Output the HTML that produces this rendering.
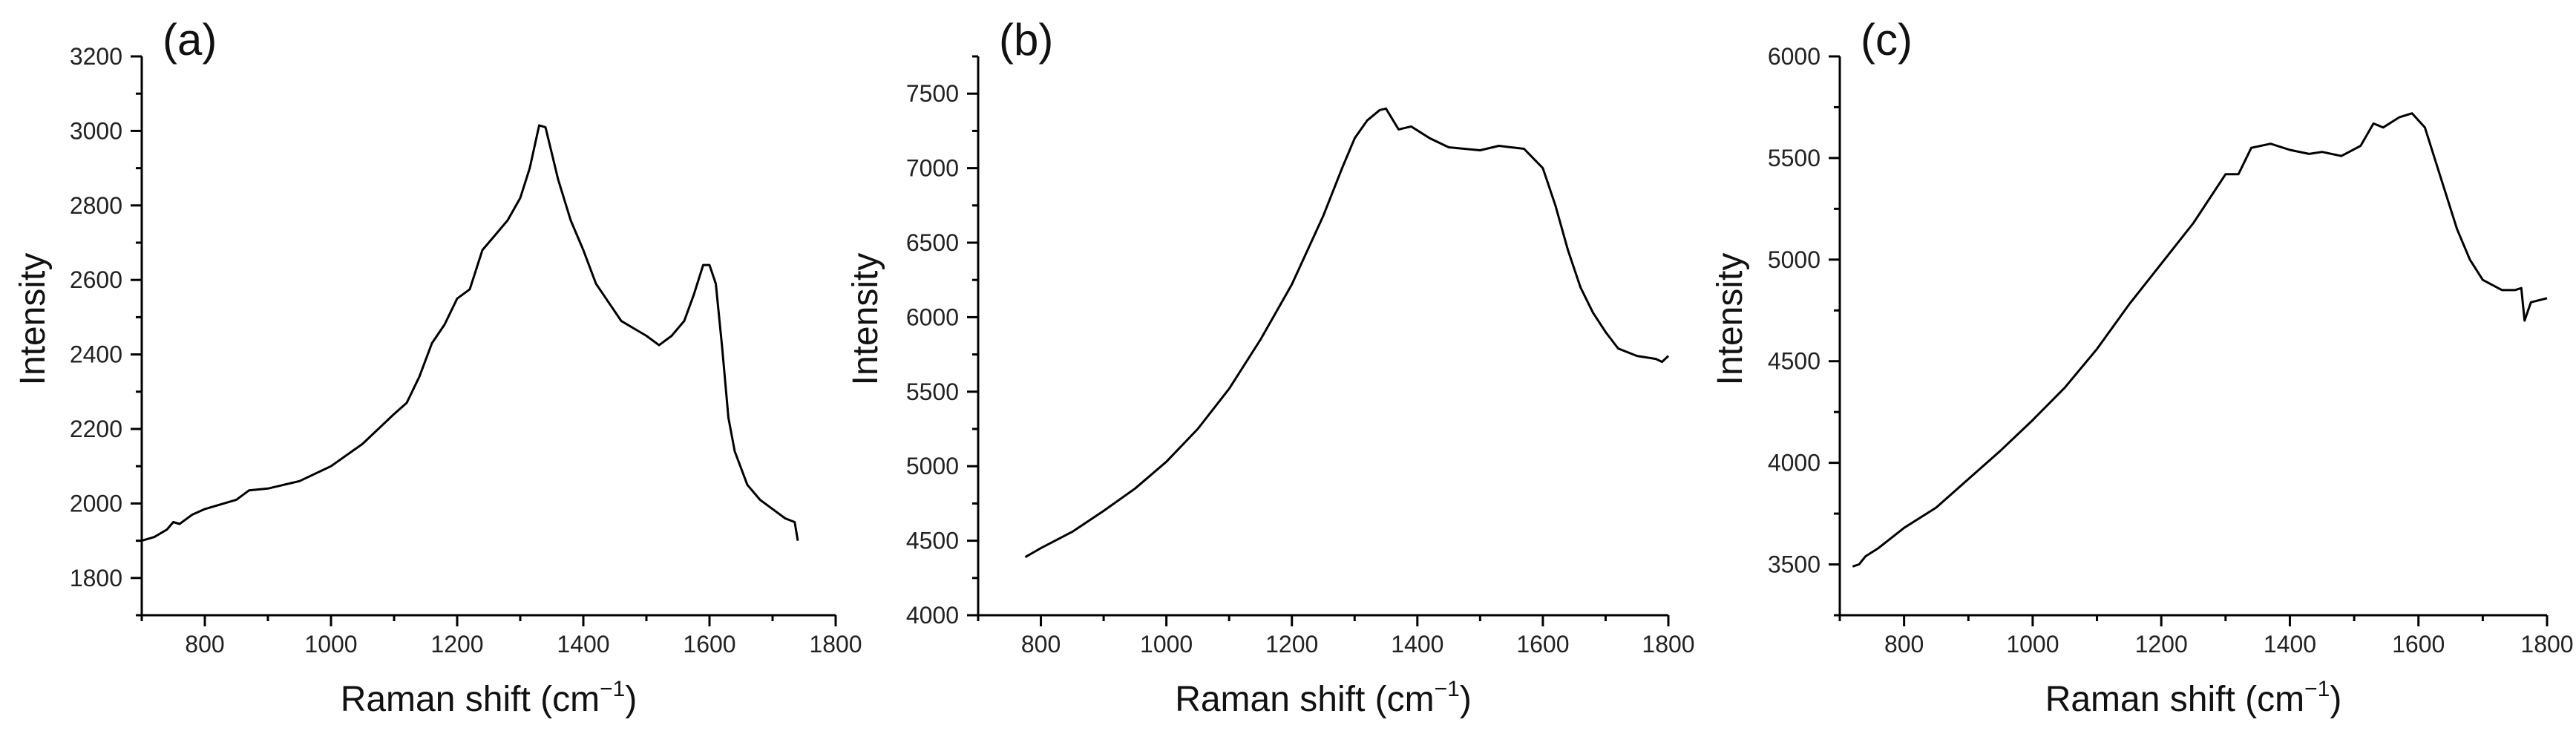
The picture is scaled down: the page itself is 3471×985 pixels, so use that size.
<!DOCTYPE html>
<html><head><meta charset="utf-8"><style>
html,body{margin:0;padding:0;background:#fff;}
svg{display:block;font-family:"Liberation Sans",Arial,sans-serif;}
</style></head><body>
<svg id="fig" width="3471" height="985" viewBox="0 0 3471 985" xmlns="http://www.w3.org/2000/svg"></svg>
<script>
const xA=[700,720,740,750,760,780,800,850,870,900,950,1000,1050,1100,1120,1140,1160,1180,1200,1220,1240,1260,1280,1300,1315,1330,1340,1360,1380,1400,1420,1440,1460,1480,1500,1520,1540,1560,1575,1590,1600,1610,1620,1630,1640,1660,1680,1700,1720,1735,1740];
const yA=[1900,1910,1930,1950,1945,1970,1985,2010,2035,2040,2060,2100,2160,2240,2270,2340,2430,2480,2550,2575,2680,2720,2760,2820,2900,3015,3010,2870,2760,2680,2590,2540,2490,2470,2450,2425,2450,2490,2560,2640,2640,2590,2420,2230,2140,2050,2010,1985,1960,1950,1900];
const xB=[775,800,850,900,950,1000,1050,1100,1150,1200,1250,1280,1300,1320,1340,1350,1370,1390,1420,1450,1500,1530,1570,1600,1620,1640,1660,1680,1700,1720,1750,1780,1790,1800];
const yB=[4390,4450,4560,4700,4850,5030,5250,5520,5850,6220,6680,7000,7200,7320,7390,7400,7260,7280,7200,7140,7120,7150,7130,7000,6750,6450,6200,6030,5900,5790,5740,5720,5700,5740];
const xC=[720,730,740,750,760,800,850,900,950,1000,1050,1100,1150,1200,1250,1300,1320,1340,1370,1400,1430,1450,1480,1510,1530,1545,1570,1590,1610,1630,1660,1680,1700,1730,1750,1760,1765,1775,1800];
const yC=[3490,3500,3540,3560,3580,3680,3780,3920,4060,4210,4370,4560,4780,4980,5180,5420,5420,5550,5570,5540,5520,5530,5510,5560,5670,5650,5700,5720,5650,5450,5150,5000,4900,4850,4850,4860,4700,4790,4810];
const xTicks=[800,1000,1200,1400,1600,1800];
const yTicksA=[1800,2000,2200,2400,2600,2800,3000,3200];
const yTicksB=[4000,4500,5000,5500,6000,6500,7000,7500];
const yTicksC=[3500,4000,4500,5000,5500,6000];

const NS="http://www.w3.org/2000/svg";
const svg=document.getElementById('fig');
function el(tag,attrs,parent){const e=document.createElementNS(NS,tag);for(const k in attrs)e.setAttribute(k,attrs[k]);(parent||svg).appendChild(e);return e;}

function panel(id,letter,x0,x1,ymin,ymax,ystep,yTicks,xs,ys,labelX){
  const top=76,bot=829;
  const sx=v=>x0+(v-700)/(1800-700)*(x1-x0);
  const sy=v=>bot-(v-ymin)/(ymax-ymin)*(bot-top);
  const g=el('g',{});
  
  
  const ax=el('path',{d:`M${x0} ${top}V${bot}H${x1}`,fill:'none',stroke:'#000','stroke-width':3},g);
  
  
  for(let v=700;v<=1800;v+=100){
    const major=(v%200===0);
    const t=el('line',{x1:sx(v),x2:sx(v),y1:bot,y2:bot+(major?15:8),stroke:'#000','stroke-width':3},g);
    
    
  }
  xTicks.forEach(v=>{
    const t=el('text',{x:sx(v),y:879,'font-size':32,'text-anchor':'middle',fill:'#222'},g);
    t.textContent=v;
    
    
  });
  for(let v=yTicks[0]-ystep;v<=ymax+1e-6;v+=ystep/2){
    if(v<ymin-1e-6)continue;
    const major=yTicks.indexOf(v)>=0;
    const t=el('line',{x1:x0,x2:x0-(major?15:8),y1:sy(v),y2:sy(v),stroke:'#000','stroke-width':3},g);
    
    
  }
  yTicks.forEach(v=>{
    const t=el('text',{x:x0-26,y:sy(v)+11,'font-size':32,'text-anchor':'end',fill:'#222'},g);
    t.textContent=v;
    
    
  });
  let d='';
  xs.forEach((v,i)=>{d+=(i?'L':'M')+sx(v).toFixed(1)+' '+sy(ys[i]).toFixed(1);});
  const ln=el('path',{d:d,fill:'none',stroke:'#000','stroke-width':3,'stroke-linejoin':'round'},g);
  
  
  const lt=el('text',{x:x0+28,y:74,'font-size':60,fill:'#111'},g);
  lt.textContent='('+letter+')';
  
  
  const yl=el('text',{x:0,y:0,'font-size':48,'text-anchor':'middle',fill:'#111',transform:`translate(${labelX},430) rotate(-90)`},g);
  yl.textContent='Intensity';
  
  
  const xl=el('text',{x:(x0+x1)/2,y:958,'font-size':48,'text-anchor':'middle',fill:'#111'},g);
  xl.innerHTML='Raman shift (cm<tspan font-size="30" dy="-20">\u22121</tspan><tspan dy="20">)</tspan>';
  
  
}
panel('a','a',191,1126,1700,3200,200,yTicksA,xA,yA,60);
panel('b','b',1318,2248,4000,7750,500,yTicksB,xB,yB,1182);
panel('c','c',2479,3432,3250,6000,500,yTicksC,xC,yC,2347);
</script>
</body></html>
